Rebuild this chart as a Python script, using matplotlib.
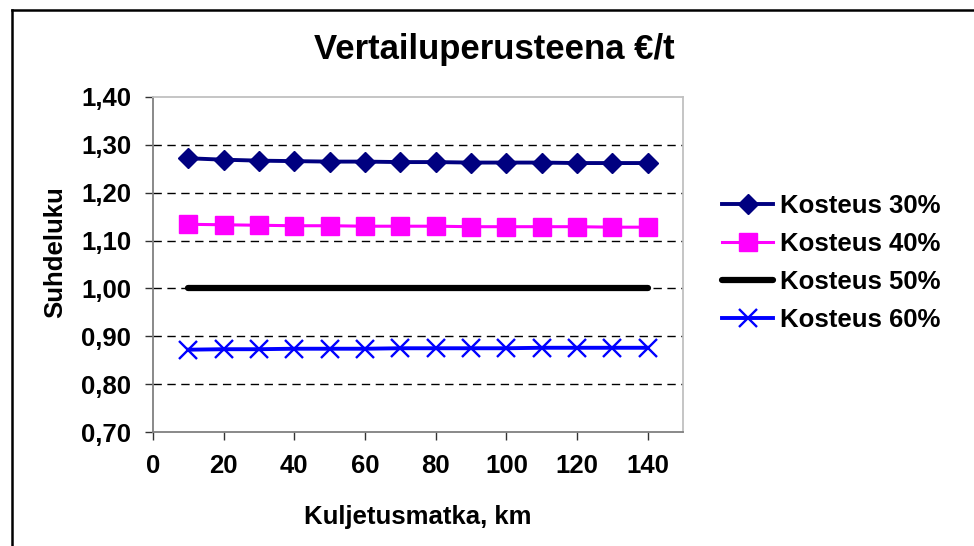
import matplotlib
matplotlib.use("Agg")
import matplotlib.pyplot as plt
from matplotlib.lines import Line2D
from matplotlib.ticker import FuncFormatter

plt.rcParams['font.family'] = ['Liberation Sans', 'DejaVu Sans']
plt.rcParams['font.weight'] = 'bold'

# Transport distance (km) and ratio values for each moisture content
distance_km = [10, 20, 30, 40, 50, 60, 70, 80, 90, 100, 110, 120, 130, 140]
kosteus_30 = [1.272, 1.269, 1.267, 1.266, 1.265, 1.265, 1.264, 1.264, 1.263, 1.263, 1.263, 1.262, 1.262, 1.262]
kosteus_40 = [1.134, 1.133, 1.132, 1.131, 1.131, 1.130, 1.130, 1.130, 1.129, 1.129, 1.129, 1.129, 1.128, 1.128]
kosteus_50 = [1.000] * 14
kosteus_60 = [0.872, 0.873, 0.873, 0.874, 0.874, 0.874, 0.875, 0.875, 0.875, 0.875, 0.876, 0.876, 0.876, 0.876]

series_labels = ['Kosteus 30%', 'Kosteus 40%', 'Kosteus 50%', 'Kosteus 60%']
y_ticks = [0.70, 0.80, 0.90, 1.00, 1.10, 1.20, 1.30, 1.40]
x_ticks = [0, 20, 40, 60, 80, 100, 120, 140]

W, H = 974, 546
fig = plt.figure(figsize=(W / 100, H / 100), dpi=100)
fig.patch.set_facecolor('white')

# Chart-area frame: top and left edges
fig.add_artist(Line2D([12 / W, 1.0], [1 - 10 / H, 1 - 10 / H],
                      transform=fig.transFigure, color='black', linewidth=1.8))
fig.add_artist(Line2D([12 / W, 12 / W], [0.0, 1 - 10 / H],
                      transform=fig.transFigure, color='black', linewidth=1.8))

ax = fig.add_axes([153 / W, (H - 432) / H, (683 - 153) / W, (432 - 97) / H])

ax.plot(distance_km, kosteus_30, color='#000080', linewidth=2.8,
        marker='D', markersize=10.5, label=series_labels[0])
ax.plot(distance_km, kosteus_40, color='#FF00FF', linewidth=2.2,
        marker='s', markersize=12.5, label=series_labels[1])
ax.plot(distance_km, kosteus_50, color='black', linewidth=4.5,
        solid_capstyle='round', label=series_labels[2])
ax.plot(distance_km, kosteus_60, color='#0000FF', linewidth=2.8,
        marker='x', markersize=13, markeredgewidth=1.7, label=series_labels[3])

ax.set_xlim(0, 150)
ax.set_ylim(0.70, 1.40)
ax.set_xticks(x_ticks)
ax.set_yticks(y_ticks)
ax.yaxis.set_major_formatter(FuncFormatter(lambda v, p: f"{v:.2f}".replace('.', ',')))

for y in y_ticks[1:-1]:
    ax.axhline(y, color='black', linewidth=1.0, linestyle=(0, (6, 4)), zorder=0)

ax.spines['left'].set_color('#808080')
ax.spines['bottom'].set_color('#808080')
ax.spines['top'].set_color('#c0c0c0')
ax.spines['right'].set_color('#c0c0c0')
for s in ax.spines.values():
    s.set_linewidth(1.3)

ax.tick_params(axis='both', direction='out', length=5.8, width=1.0, color='#333333',
               labelsize=18.5)
ax.tick_params(axis='y', pad=10)
ax.tick_params(axis='x', pad=10)
for lbl in ax.get_xticklabels() + ax.get_yticklabels():
    lbl.set_fontweight('bold')

fig.text(494 / W, 1 - 50 / H, 'Vertailuperusteena €/t', ha='center', va='center',
         fontsize=25, fontweight='bold')
fig.text(55 / W, 1 - 252 / H, 'Suhdeluku', ha='center', va='center', rotation=90,
         fontsize=18.5, fontweight='bold')
fig.text(418 / W, 1 - 517 / H, 'Kuljetusmatka, km', ha='center', va='center',
         fontsize=18.5, fontweight='bold')

leg = ax.legend(loc='upper left', bbox_to_anchor=(722 / W, 1 - 194 / H),
                bbox_transform=fig.transFigure, frameon=False,
                prop={'size': 18.5, 'weight': 'bold'},
                handlelength=2.0, handletextpad=0.27, labelspacing=0.54,
                borderpad=0, borderaxespad=0)

fig.savefig('out.png', dpi=100)
